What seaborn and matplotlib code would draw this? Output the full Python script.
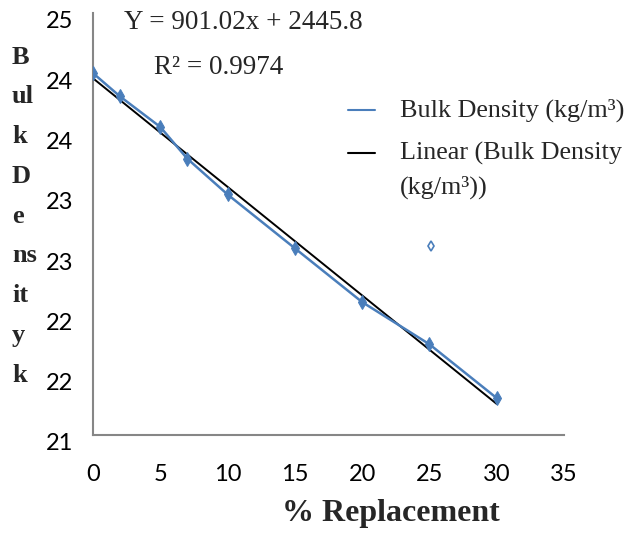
import numpy as np
import pandas as pd
import matplotlib
matplotlib.use('Agg')
import matplotlib.pyplot as plt
import matplotlib.transforms as mtransforms
from matplotlib.ticker import StrMethodFormatter
import seaborn as sns

# Data
replacement = [0, 2, 5, 7, 10, 15, 20, 25, 30]
bulk_density = [24.43, 24.21, 23.92, 23.62, 23.28, 22.77, 22.26, 21.86, 21.35]
stray_x = [25.1]
stray_y = [22.79]

equation_text = 'Y = 901.02x + 2445.8'
r2_text = 'R² = 0.9974'
ylabel_parts = ['B', 'ul', 'k', 'D', 'e', 'ns', 'it', 'y', 'k']

df = pd.DataFrame({'x': replacement, 'y': bulk_density})

sns.set_style('white')
plt.rcParams['font.family'] = ['Lato', 'DejaVu Sans']

blue = '#4A7EBB'
grey = '#868686'

fig = plt.figure(figsize=(6.3, 5.33), dpi=100)
ax = fig.add_axes([93 / 630, 1 - 435 / 533, (564 - 93) / 630, (435 - 13) / 533])

# Data series
sns.lineplot(data=df, x='x', y='y', ax=ax, color=blue, linewidth=1.8,
             marker='d', markersize=7, markeredgecolor=blue, zorder=3)
# Linear trend line
sns.regplot(data=df, x='x', y='y', ax=ax, scatter=False, ci=None, truncate=True,
            color='black', line_kws={'linewidth': 1.4, 'zorder': 2})
# Stray legend marker
ax.plot(stray_x, stray_y, linestyle='none', marker='d', markersize=5,
        markerfacecolor='white', markeredgecolor=blue, markeredgewidth=1.2)

ax.set_xlim(0, 35)
ax.set_ylim(21, 25)
ax.set_xticks(np.arange(0, 36, 5))
ax.set_yticks(np.linspace(21, 25, 8))
ax.yaxis.set_major_formatter(StrMethodFormatter('{x:.0f}'))
ax.set_xlabel('')
ax.set_ylabel('')

for side in ['top', 'right']:
    ax.spines[side].set_visible(False)
for side in ['left', 'bottom']:
    ax.spines[side].set_color(grey)
    ax.spines[side].set_linewidth(1.5)

ax.tick_params(axis='both', which='major', length=5, width=1.2, color=grey,
               labelsize=17, labelcolor='black', direction='out')
ax.tick_params(axis='x', pad=16)
ax.tick_params(axis='y', pad=9)

# Excel-like offset of y tick labels below their ticks
offset = mtransforms.ScaledTranslation(0, -0.07, fig.dpi_scale_trans)
for lab in ax.get_yticklabels():
    lab.set_transform(lab.get_transform() + offset)

serif = 'Liberation Serif'

# Equation and R squared
fig.text(243 / 630, 1 - 22 / 533, equation_text, family=serif, fontsize=19.5,
         ha='center', va='center')
fig.text(219 / 630, 1 - 68 / 533, r2_text, family=serif, fontsize=19.5,
         ha='center', va='center')

# Legend drawn by hand
fig.lines.append(plt.Line2D([348 / 630, 375 / 630], [1 - 110 / 533] * 2,
                            transform=fig.transFigure, color=blue, linewidth=1.5))
fig.lines.append(plt.Line2D([348 / 630, 375 / 630], [1 - 153 / 533] * 2,
                            transform=fig.transFigure, color='black', linewidth=1.5))
fig.text(400 / 630, 1 - 110 / 533, 'Bulk Density (kg/m³)', family=serif,
         fontsize=18.8, ha='left', va='center')
fig.text(400 / 630, 1 - 153 / 533, 'Linear (Bulk Density', family=serif,
         fontsize=18.8, ha='left', va='center')
fig.text(400 / 630, 1 - 187 / 533, '(kg/m³))', family=serif,
         fontsize=18.8, ha='left', va='center')

# Stacked y label
for i, part in enumerate(ylabel_parts):
    y = 57 + i * 39.8
    fig.text(12 / 630, 1 - y / 533, part, family=serif, fontsize=19,
             fontweight='bold', ha='left', va='center')

# X label
fig.text(391 / 630, 1 - 514 / 533, '% Replacement', family=serif, fontsize=23,
         fontweight='bold', ha='center', va='center')

fig.savefig('out.png', dpi=100)
